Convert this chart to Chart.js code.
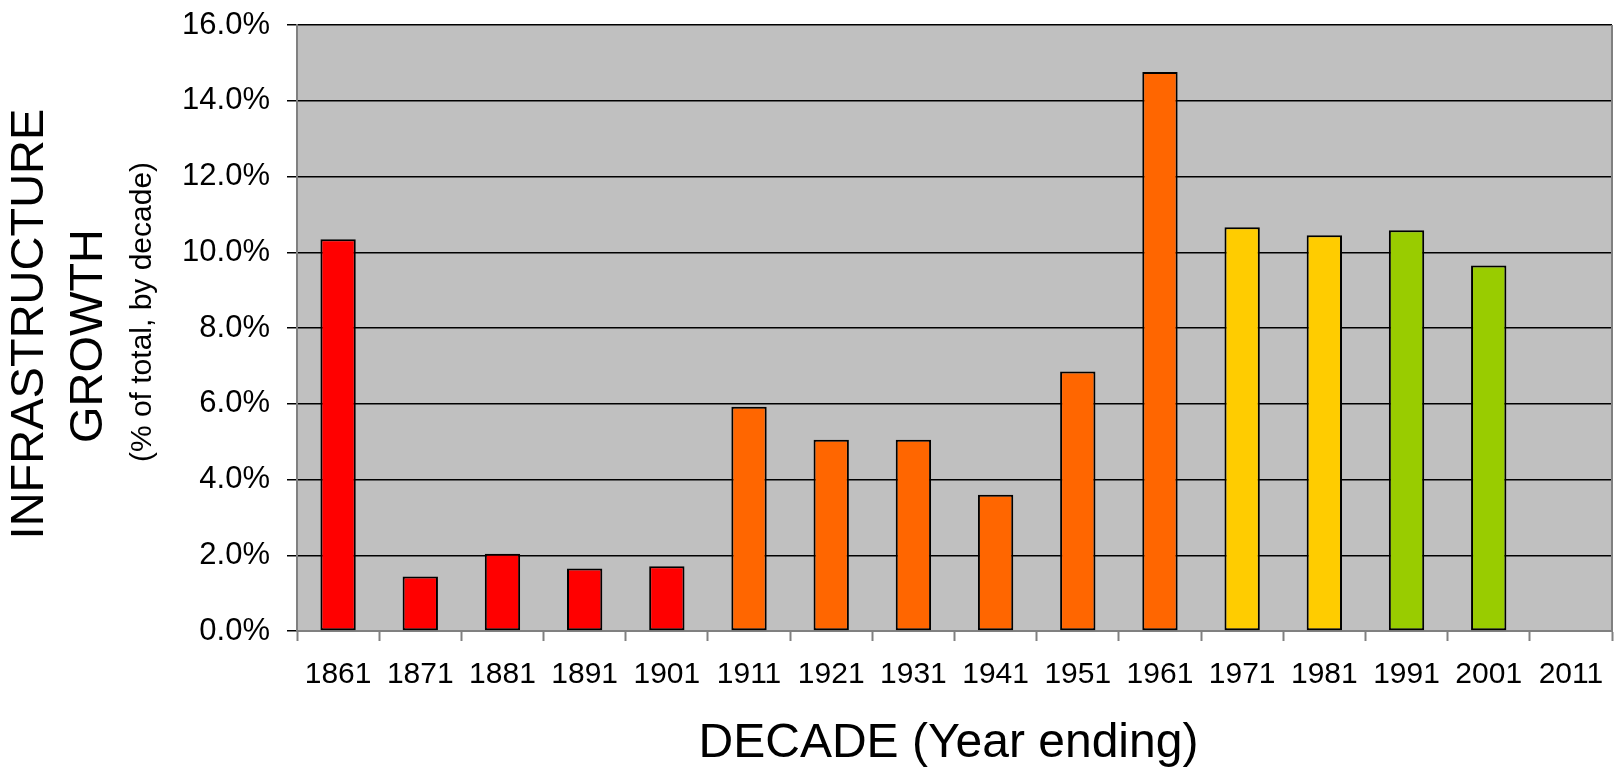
<!DOCTYPE html>
<html>
<head>
<meta charset="utf-8">
<script src="https://cdn.jsdelivr.net/npm/chart.js@4.4.1/dist/chart.umd.min.js"></script>
<style>
  html, body { margin: 0; padding: 0; background: #ffffff; }
  #wrap { width: 1619px; height: 771px; position: relative; }
</style>
</head>
<body>
<div id="wrap"><canvas id="c"></canvas></div>
<script>
// ---- data ----
const decades = ['1861','1871','1881','1891','1901','1911','1921','1931','1941','1951','1961','1971','1981','1991','2001','2011'];
const growthPct = [10.34, 1.44, 2.04, 1.65, 1.71, 5.92, 5.05, 5.05, 3.60, 6.85, 14.76, 10.66, 10.45, 10.58, 9.65, null];
const yTickValues = [0, 2, 4, 6, 8, 10, 12, 14, 16];
const xAxisTitle = 'DECADE (Year ending)';
const yAxisTitleLines = ['INFRASTRUCTURE', 'GROWTH'];
const yAxisSubtitle = '(% of total, by decade)';

// ---- styles ----
const barColors = ['#FF0000','#FF0000','#FF0000','#FF0000','#FF0000',
                   '#FF6600','#FF6600','#FF6600','#FF6600','#FF6600','#FF6600',
                   '#FFCC00','#FFCC00','#99CC00','#99CC00','#99CC00'];
const FONT = '"Liberation Sans", Arial, sans-serif';

const plotBg = {
  id: 'plotBg',
  beforeDraw(chart) {
    const {ctx, chartArea: a} = chart;
    ctx.save();
    ctx.fillStyle = '#C0C0C0';
    ctx.fillRect(a.left, a.top, a.right - a.left, a.bottom - a.top);
    ctx.restore();
  },
  afterDatasetsDraw(chart) {
    const {ctx, chartArea: a} = chart;
    ctx.save();
    ctx.strokeStyle = '#808080';
    ctx.lineWidth = 2;
    ctx.beginPath();
    ctx.moveTo(a.right, a.top);
    ctx.lineTo(a.right, a.bottom);
    ctx.stroke();
    ctx.restore();
  }
};

const titles = {
  id: 'titles',
  afterDraw(chart) {
    const {ctx, chartArea: a} = chart;
    ctx.save();
    ctx.fillStyle = '#000000';
    ctx.textAlign = 'center';
    ctx.textBaseline = 'middle';
    // x title
    ctx.font = '48px ' + FONT;
    ctx.fillText(xAxisTitle, (a.left + a.right) / 2 - 6, 744);
    // y titles (rotated)
    ctx.save();
    ctx.translate(30, 324);
    ctx.rotate(-Math.PI / 2);
    ctx.font = '47px ' + FONT;
    ctx.fillText(yAxisTitleLines[0], 0, 0);
    ctx.restore();
    ctx.save();
    ctx.translate(89, 336);
    ctx.rotate(-Math.PI / 2);
    ctx.font = '47px ' + FONT;
    ctx.fillText(yAxisTitleLines[1], 0, 0);
    ctx.restore();
    ctx.save();
    ctx.translate(143, 312);
    ctx.rotate(-Math.PI / 2);
    ctx.font = '30px ' + FONT;
    ctx.fillText(yAxisSubtitle, 0, 0);
    ctx.restore();
    ctx.restore();
  }
};

new Chart(document.getElementById('c'), {
  type: 'bar',
  data: {
    labels: decades,
    datasets: [{
      data: growthPct,
      backgroundColor: barColors,
      borderColor: '#000000',
      borderWidth: 2,
      borderSkipped: false,
      categoryPercentage: 1.0,
      barPercentage: 0.43
    }]
  },
  options: {
    responsive: true,
    maintainAspectRatio: false,
    animation: false,
    layout: { padding: { top: 25, right: 7, left: 0, bottom: 0 } },
    plugins: { legend: { display: false }, tooltip: { enabled: false } },
    scales: {
      x: {
        offset: true,
        grid: {
          offset: true,
          drawOnChartArea: false,
          drawTicks: true,
          tickLength: 10,
          tickColor: '#808080',
          tickWidth: 2,
          color: '#808080'
        },
        border: { display: true, color: '#808080', width: 2 },
        ticks: {
          font: { family: FONT, size: 30 },
          color: '#000000',
          padding: 16,
          maxRotation: 0,
          autoSkip: false
        },
        afterFit(scale) { scale.height = 140; scale.paddingLeft = 0; scale.paddingRight = 0; }
      },
      y: {
        min: 0,
        max: 16,
        afterBuildTicks(scale) { scale.ticks = yTickValues.map(v => ({ value: v })); },
        grid: {
          color: '#000000',
          lineWidth: 1.5,
          drawTicks: true,
          tickLength: 10,
          tickColor: '#000000',
          tickWidth: 1.5
        },
        border: { display: true, color: '#808080', width: 2 },
        ticks: {
          font: { family: FONT, size: 31 },
          color: '#000000',
          padding: 17,
          callback: (v) => Number(v).toFixed(1) + '%'
        },
        afterFit(scale) { scale.width = 297; scale.paddingTop = 0; scale.paddingBottom = 0; }
      }
    }
  },
  plugins: [plotBg, titles]
});
</script>
</body>
</html>
